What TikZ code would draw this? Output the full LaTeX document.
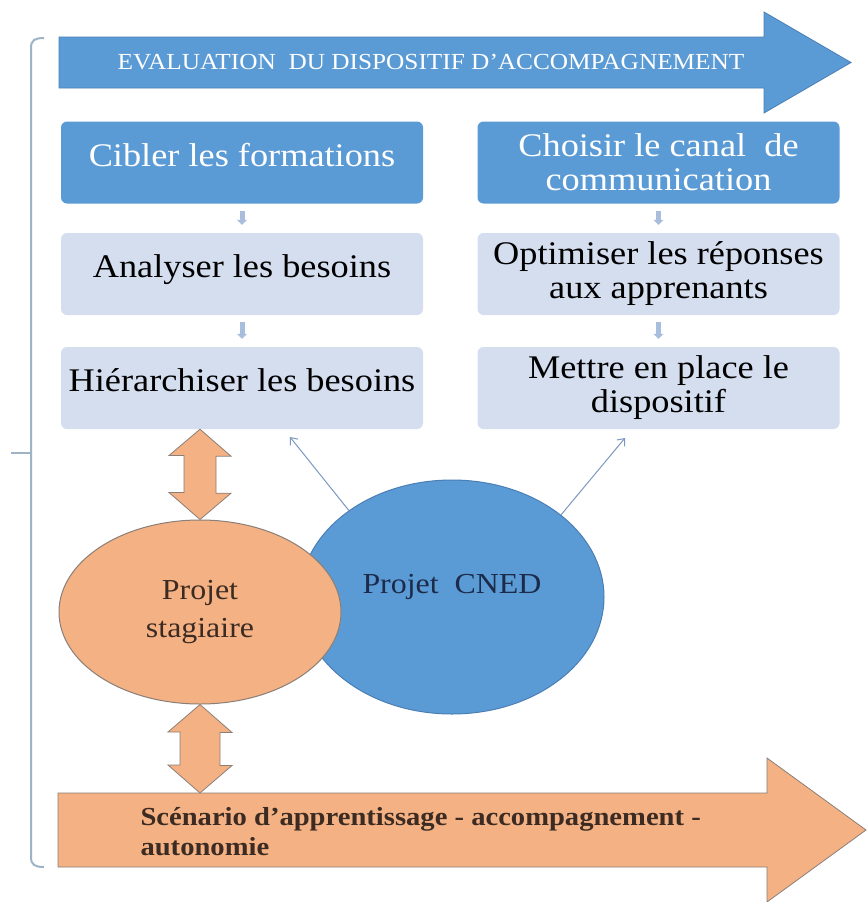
\documentclass[tikz,border=0pt]{standalone}
\usepackage{fontspec}
\setmainfont{Liberation Serif}[FakeStretch=1.1]
\usetikzlibrary{arrows.meta,shapes.geometric,calc}

\definecolor{cnedblue}{HTML}{5B9BD5}
\definecolor{cnededge}{HTML}{4A7FB5}
\definecolor{lightbox}{HTML}{D5DEEE}
\definecolor{stagorange}{HTML}{F4B183}
\definecolor{stagedge}{HTML}{8A7F78}
\definecolor{tinyblue}{HTML}{A9BEDC}
\definecolor{bracegray}{HTML}{9FB3C6}
\definecolor{pointblue}{HTML}{7C98C0}
\definecolor{cnedtext}{HTML}{1C2B4A}
\definecolor{stagtext}{HTML}{3B2B22}

\begin{document}
\begin{tikzpicture}[x=1pt, y=-1pt,
  stepdark/.style={rectangle, rounded corners=6pt, fill=cnedblue, text=white, minimum width=362pt, minimum height=82pt, inner sep=2pt, align=center, font={\fontsize{33}{34}\selectfont}},
  steplight/.style={stepdark, fill=lightbox, text=black},
  oneline/.style={text depth=16pt},
  tinyarrow/.style={line width=5pt, draw=tinyblue, -{Triangle[width=10pt,length=5pt]}, shorten <=7pt, shorten >=8pt},
  bigarrow/.style={fill=cnedblue, draw=cnededge, line width=0.8pt},
  orangearrow/.style={fill=stagorange, draw=stagedge, line width=0.8pt},
  pointer/.style={draw=pointblue, line width=1pt, -{Straight Barb[length=6pt,width=10pt]}},
  bracel/.style={draw=bracegray, line width=2pt}
]
  \fill[white] (0,0) rectangle (867,902);
  \useasboundingbox (0,0) rectangle (867,902);

  % top arrow
  \draw[bigarrow] (59,37) -- (764,37) -- (764,12) -- (851,62.5) -- (764,113) -- (764,88) -- (59,88) -- cycle;
  \node[text=white, font={\fontsize{23}{26}\selectfont}] (evaltxt) at (431,62) {EVALUATION\ \ DU DISPOSITIF D’ACCOMPAGNEMENT};

  % bottom arrow
  \draw[orangearrow] (58,793) -- (767,793) -- (767,758) -- (866,830) -- (767,902) -- (767,867) -- (58,867) -- cycle;
  \node[anchor=west, align=left, text=stagtext, font={\fontsize{26}{30}\selectfont\bfseries}] (scentxt) at (137,832) {Scénario d’apprentissage - accompagnement -\\autonomie};
  \coordinate (scentop) at (200,793);

  % boxes
  \node[stepdark, oneline] (cibler) at (242,162.5) {Cibler les formations};
  \node[steplight, oneline] (analyser) at (242,274) {Analyser les besoins};
  \node[steplight, oneline] (hier) at (242,388) {Hiérarchiser les besoins};
  \node[stepdark] (choisir) at (658.5,162.5) {Choisir le canal\ \ de\\communication};
  \node[steplight] (optimiser) at (658.5,274) {Optimiser les réponses\\aux apprenants};
  \node[steplight] (mettre) at (658.5,388) {Mettre en place le\\dispositif};

  \draw[tinyarrow] (cibler) -- (analyser);
  \draw[tinyarrow] (analyser) -- (hier);
  \draw[tinyarrow] (choisir) -- (optimiser);
  \draw[tinyarrow] (optimiser) -- (mettre);

  % projects
  \node[ellipse, fill=cnedblue, draw=cnededge, line width=1pt, minimum width=304pt, minimum height=234pt, inner sep=0pt, text=cnedtext, text depth=26pt, font={\fontsize{29}{34}\selectfont}] (cned) at (452,597) {Projet\ \ CNED};
  \coordinate (tipL) at (290,437);
  \coordinate (tipR) at (625,438);
  \draw[pointer] (cned.140) -- (tipL);
  \draw[pointer] (cned.37) -- (tipR);

  \node[ellipse, fill=stagorange, draw=stagedge, line width=1pt, minimum width=282pt, minimum height=184pt, inner sep=0pt, align=center, text=stagtext, font={\fontsize{29}{38}\selectfont}] (stag) at (200,612) {Projet\\stagiaire};

  \draw[orangearrow] (stag.north |- hier.south) -- ++(31,27) -- ++(-15,0) -- ++(0,37) -- ++(15,0) -- (stag.north) -- ++(-31,-27) -- ++(15,0) -- ++(0,-37) -- ++(-15,0) -- cycle;
  \draw[orangearrow] (stag.south) -- ++(32,28) -- ++(-12,0) -- ++(0,33) -- ++(12,0) -- (scentop) -- ++(-32,-28) -- ++(12,0) -- ++(0,-33) -- ++(-12,0) -- cycle;

  % brace
  \draw[bracel] (44,38) .. controls (35,38) and (31,40) .. (31,48) -- (31,857) .. controls (31,865) and (35,867) .. (44,867);
  \draw[bracel] (31,453) -- (11,453);
\end{tikzpicture}
\end{document}
